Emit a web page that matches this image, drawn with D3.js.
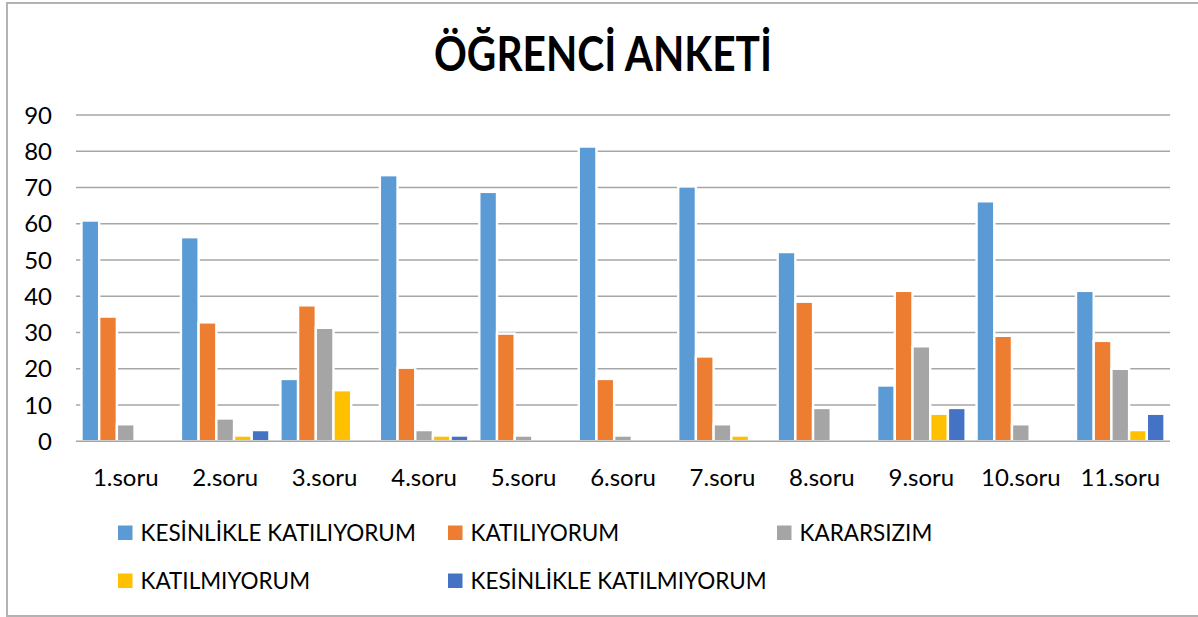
<!DOCTYPE html>
<html>
<head>
<meta charset="utf-8">
<script src="https://cdn.jsdelivr.net/npm/d3@7"></script>
<style>
  html, body { margin: 0; padding: 0; background: #fff; }
  svg { display: block; }
  text { font-family: Lato, "Open Sans", sans-serif; fill: #000; }
</style>
</head>
<body>
<svg id="chart" width="1198" height="617"></svg>
<script>
const title = "ÖĞRENCİ ANKETİ";
const categories = ["1.soru","2.soru","3.soru","4.soru","5.soru","6.soru","7.soru","8.soru","9.soru","10.soru","11.soru"];
const seriesNames = ["KESİNLİKLE KATILIYORUM","KATILIYORUM","KARARSIZIM","KATILMIYORUM","KESİNLİKLE KATILMIYORUM"];
const seriesColors = ["#5B9BD5","#ED7D31","#A5A5A5","#FFC000","#4472C4"];
const kesinlikleKatiliyorum = [60.9, 56.3, 17.2, 73.4, 68.8, 81.3, 70.3, 52.2, 15.4, 66.2, 41.5];
const katiliyorum          = [34.4, 32.8, 37.5, 20.3, 29.7, 17.2, 23.4, 38.5, 41.5, 29.1, 27.7];
const kararsizim           = [4.7, 6.3, 31.3, 3.1, 1.6, 1.6, 4.7, 9.2, 26.2, 4.7, 20.0];
const katilmiyorum         = [0, 1.6, 14.1, 1.6, 0, 0, 1.6, 0, 7.6, 0, 3.1];
const kesinlikleKatilmiyorum = [0, 3.1, 0, 1.6, 0, 0, 0, 0, 9.2, 0, 7.6];
const yTicks = [0,10,20,30,40,50,60,70,80,90];

const seriesValues = [kesinlikleKatiliyorum, katiliyorum, kararsizim, katilmiyorum, kesinlikleKatilmiyorum];

const svg = d3.select("#chart");
const plot = {left: 76, right: 1170, top: 115, bottom: 441.3};

// chart border
svg.append("rect").attr("x", 7).attr("y", 3).attr("width", 1198).attr("height", 613)
  .attr("fill", "#fff").attr("stroke", "#b3b3b3").attr("stroke-width", 2);

// title
svg.append("text").attr("x", 603).attr("y", 71).attr("text-anchor", "middle")
  .attr("font-size", 47).attr("font-weight", "bold")
  .attr("textLength", 338).attr("lengthAdjust", "spacingAndGlyphs")
  .text(title);

const y = d3.scaleLinear().domain([0, 90]).range([plot.bottom, plot.top]);
const x0 = d3.scaleBand().domain(categories).range([plot.left, plot.right])
  .paddingInner(0.11).paddingOuter(0.055);
const x1 = d3.scaleBand().domain(d3.range(seriesNames.length)).range([0, x0.bandwidth()]);

// gridlines
svg.append("g").selectAll("line").data(yTicks.filter(t => t > 0)).join("line")
  .attr("x1", plot.left).attr("x2", plot.right)
  .attr("y1", d => y(d)).attr("y2", d => y(d))
  .attr("stroke", "#a6a6a6").attr("stroke-width", 1.5);

// y labels
svg.append("g").selectAll("text").data(yTicks).join("text")
  .attr("x", 52).attr("y", d => y(d)).attr("dy", "0.36em")
  .attr("text-anchor", "end").attr("font-size", 24)
  .text(d => d);

// bars
const groups = svg.append("g").selectAll("g").data(categories).join("g")
  .attr("transform", d => `translate(${x0(d)},0)`);
groups.selectAll("rect")
  .data((c, i) => seriesValues.map((vals, s) => ({s, v: vals[i]})))
  .join("rect")
  .filter(d => d.v > 0)
  .attr("x", d => x1(d.s)).attr("width", x1.bandwidth())
  .attr("y", d => y(d.v)).attr("height", d => y(0) - y(d.v))
  .attr("fill", d => seriesColors[d.s])
  .attr("stroke", "#fff").attr("stroke-width", 2.4);

// baseline
svg.append("line").attr("x1", plot.left).attr("x2", plot.right)
  .attr("y1", y(0)).attr("y2", y(0))
  .attr("stroke", "#a6a6a6").attr("stroke-width", 1.5);

// x labels
svg.append("g").selectAll("text").data(categories).join("text")
  .attr("x", d => x0(d) + x0.bandwidth() / 2).attr("y", 486)
  .attr("text-anchor", "middle").attr("font-size", 24)
  .text(d => d);

// legend
const legendPos = [
  {x: 118, y: 540.5}, {x: 448, y: 540.5}, {x: 777, y: 540.5},
  {x: 118, y: 588.5}, {x: 448, y: 588.5}
];
const leg = svg.append("g").selectAll("g").data(seriesNames).join("g")
  .attr("transform", (d, i) => `translate(${legendPos[i].x},${legendPos[i].y})`);
leg.append("rect").attr("x", 0).attr("y", -15).attr("width", 14.5).attr("height", 14.5)
  .attr("fill", (d, i) => seriesColors[i]);
leg.append("text").attr("x", 22.5).attr("y", 0).attr("font-size", 22.5)
  .text(d => d);
</script>
</body>
</html>
